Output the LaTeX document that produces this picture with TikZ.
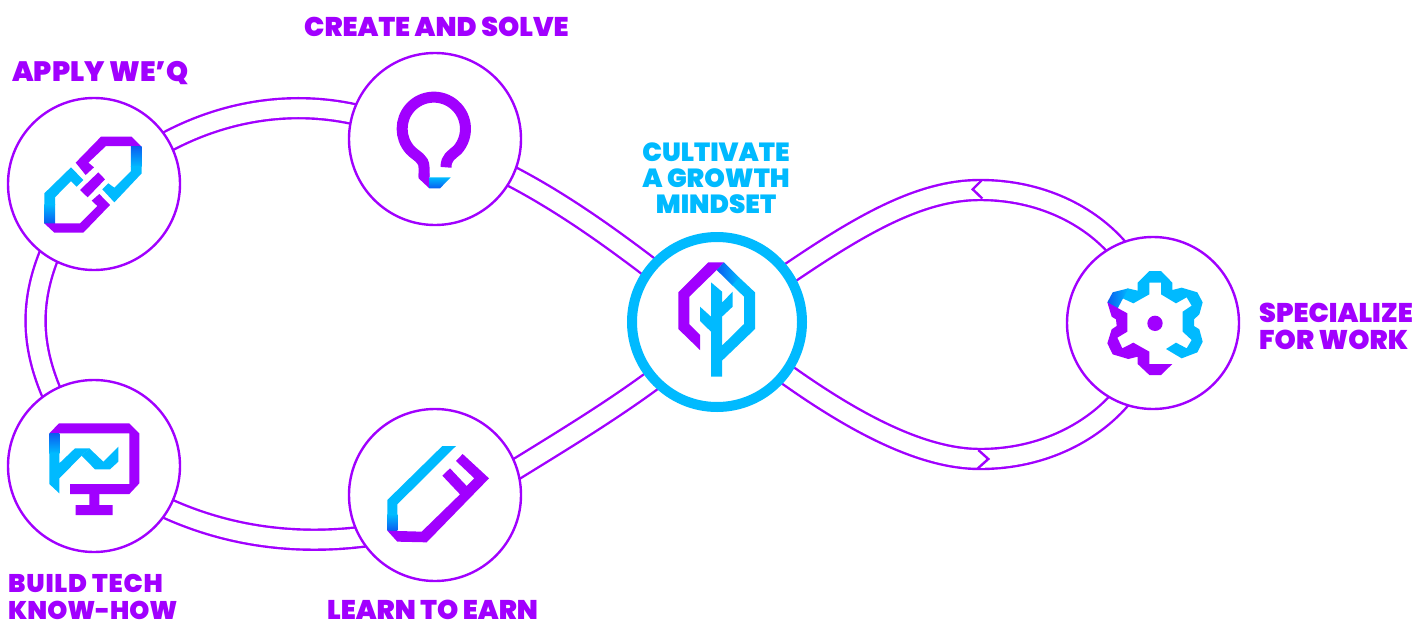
\documentclass[tikz,border=0pt]{standalone}
\usepackage{fontspec}
\setmainfont{Poppins Black}
\usetikzlibrary{backgrounds}
\definecolor{pur}{HTML}{A100FF}
\definecolor{cya}{HTML}{00BAFF}
\definecolor{blu}{HTML}{0A5CF0}
\tikzset{
  stage/.style={circle,draw=pur,line width=2.4pt,fill=white,minimum size=172pt,inner sep=0pt},
  hub/.style={circle,draw=cya,line width=10pt,fill=white,minimum size=170pt,inner sep=0pt},
  link/.style={draw=pur,line width=2.4pt,double=white,double distance=17.6pt,shorten <=-8pt,shorten >=-8pt},
  notch/.style={draw=pur,line width=2.4pt},
  lab/.style={inner sep=0pt,text=pur,font=\fontsize{27}{27}\selectfont,align=left},
  icon/.style={x=.33333pt,y=-.33333pt},
  p/.style={fill=pur,draw=none},
  c/.style={fill=cya,draw=none},
  g/.style={draw=none,top color=blu,bottom color=cya},
  gu/.style={draw=none,top color=cya,bottom color=blu}
}
\begin{document}
\begin{tikzpicture}[x=1pt,y=-1pt]
\useasboundingbox (0,0) rectangle (1419,621);
\node[stage] (apply) at (94,184) {};
\node[stage] (create) at (435,139) {};
\node[hub] (hubn) at (717,322) {};
\node[stage] (spec) at (1153,323) {};
\node[stage] (build) at (94,466) {};
\node[stage] (learn) at (435,495) {};
\coordinate (topmid) at (980,190);
\coordinate (botmid) at (980,459);
\coordinate (ta) at (982,180);\coordinate (tb) at (972.7,189.3);\coordinate (tc) at (982.3,198.5);
\coordinate (ba) at (978.3,450);\coordinate (bb) at (988.3,459);\coordinate (bc) at (977.7,468.5);
\begin{scope}[on background layer]
\draw[link] (apply.30) .. controls (230,107) and (300,101) .. (create.163);
\draw[link] (create.-26) .. controls (560,201) and (610,237) .. (hubn.141);
\draw[link] (hubn.-138) .. controls (610,412) and (560,442) .. (learn.18);
\draw[link] (learn.-151) .. controls (300,545) and (230,538) .. (build.-30);
\draw[link] (build.120) .. controls (30,345) and (30,300) .. (apply.-122);
\draw[link] (hubn.34) .. controls (860,225) and (920,190) .. (topmid) .. controls (1040,190) and (1090,215) .. (spec.116);
\draw[link] (hubn.-37) .. controls (850,420) and (920,459) .. (botmid) .. controls (1045,459) and (1095,430) .. (spec.-114);
\end{scope}
\draw[notch] (ta) -- (tb) -- (tc);
\draw[notch] (ba) -- (bb) -- (bc);
% labels
\node[lab,anchor=base west,font=\fontsize{28}{27}\selectfont] (l1) at (12,81) {APPLY WE’Q};
\node[lab,anchor=base west] (l2) at (304,36) {CREATE AND SOLVE};
\node[lab,anchor=base,text=cya,align=center,font=\fontsize{26.2}{26}\selectfont] (l3) at (716,213) {CULTIVATE\\A GROWTH\\MINDSET};
\node[lab,anchor=base west] (l4) at (1259,349) {SPECIALIZE\\FOR WORK};
\node[lab,anchor=base west,font=\fontsize{25.5}{27}\selectfont] (l5) at (8,619.5) {\addfontfeature{LetterSpace=3}BUILD TECH\\KNOW-HOW};
\node[lab,anchor=base west] (l6) at (327,619.5) {LEARN TO EARN};
% link icon
\begin{scope}[shift={(20,110)},icon]
\fill[p] (167,158)--(243,80)--(335,80)--(363,108)--(258,108)--(205,158)--(222,172)--(197,195)--cycle;
\shade[g] (333,108)--(365,108)--(365,170)--(333,170)--cycle;
\fill[c] (333,168)--(365,168)--(365,190)--(283,277)--(247,238)--(265,220)--(283,233)--(333,183)--cycle;
\fill[p] (180,240)--(235,187)--(255,208)--(203,262)--cycle;
\fill[c] (153,172)--(190,210)--(170,230)--(153,213)--(105,262)--(105,285)--(73,285)--(73,250)--cycle;
\shade[gu] (73,283)--(105,283)--(105,340)--(73,340)--cycle;
\fill[p] (73,340)--(180,340)--(232,288)--(215,272)--(238,252)--(270,285)--(190,368)--(103,368)--cycle;
\end{scope}
% bulb icon
\begin{scope}[shift={(380,80)},icon]
\draw[pur,line width=11pt] (198,262) .. controls (198,232) and (215,225) .. (232,210) arc[start angle=42,end angle=-222,radius=95] .. controls (110,230) and (132,235) .. (132,262) -- (132,292);
\fill[p] (116,280)--(148,280)--(148,325)--(116,295)--cycle;
\shade[g,top color=cya,bottom color=blu] (148,292)--(212,292)--(180,325)--(148,325)--cycle;
\end{scope}
% tree icon
\begin{scope}[shift={(650,250)},icon]
\fill[p] (85,127)--(175,37)--(222,37)--(200,60)--(118,140)--(118,223)--(150,255)--(150,300)--(85,237)--cycle;
\shade[draw=none,left color=blu,right color=cya] (200,60)--(222,37)--(270,85)--(248,107)--cycle;
\fill[c] (268,83)--(315,127)--(315,237)--(216,332)--(216,380)--(183,380)--(183,245)--(150,213)--(150,170)--(183,200)--(183,97)--(216,125)--(216,158)--(248,125)--(248,170)--(216,200)--(216,287)--(282,222)--(282,140)--(246,105)--cycle;
\end{scope}
% gear icon
\begin{scope}[shift={(1090,260)},icon]
\fill[c] (113,85)--(143,92)--(143,68)--(178,33)--(213,33)--(247,68)--(247,90)--(275,83)--(322,97)--(338,127)--(328,163)--(312,178)--(312,198)--(328,208)--(338,245)--(322,277)--(275,295)--(228,267)--(258,248)--(290,265)--(305,240)--(278,215)--(278,155)--(305,137)--(290,112)--(258,130)--(213,103)--(213,68)--(178,68)--(178,103)--(130,130)--(98,115)--cycle;
\shade[draw=none,left color=blu,right color=cya] (52,127)--(68,97)--(115,85)--(82,147)--cycle;
\fill[p] (52,127)--(112,160)--(112,215)--(82,233)--(97,265)--(130,248)--(178,275)--(178,312)--(247,312)--(213,345)--(178,345)--(143,312)--(143,290)--(115,297)--(68,283)--(52,250)--(65,208)--(80,198)--(78,178)--(65,170)--cycle;
\fill[p] (195,190) circle[radius=23];
\end{scope}
% monitor icon
\begin{scope}[shift={(30,410)},icon]
\fill[p] (58,70)--(87,40)--(298,40)--(328,70)--(328,220)--(298,252)--(120,252)--(120,222)--(298,222)--(298,70)--cycle;
\fill[p] (178,250)--(208,250)--(208,285)--(248,285)--(248,315)--(137,315)--(137,285)--(178,285)--cycle;
\shade[g] (58,70)--(88,70)--(88,130)--(58,130)--cycle;
\fill[c] (58,128)--(88,128)--(88,160)--(135,115)--(178,115)--(155,137)--(88,205)--(88,250)--(58,222)--cycle;
\fill[c] (178,115)--(220,155)--(265,110)--(265,155)--(240,178)--(195,178)--(155,137)--cycle;
\end{scope}
% pencil icon
\begin{scope}[shift={(370,435)},icon]
\fill[c] (52,195)--(217,33)--(258,33)--(82,208)--(82,240)--(52,240)--cycle;
\shade[gu] (52,238)--(82,238)--(82,287)--(52,287)--cycle;
\fill[p] (52,287)--(155,290)--(270,178)--(217,122)--(240,100)--(290,153)--(313,130)--(258,78)--(278,57)--(357,130)--(170,322)--(82,320)--cycle;
\end{scope}
\end{tikzpicture}
\end{document}
